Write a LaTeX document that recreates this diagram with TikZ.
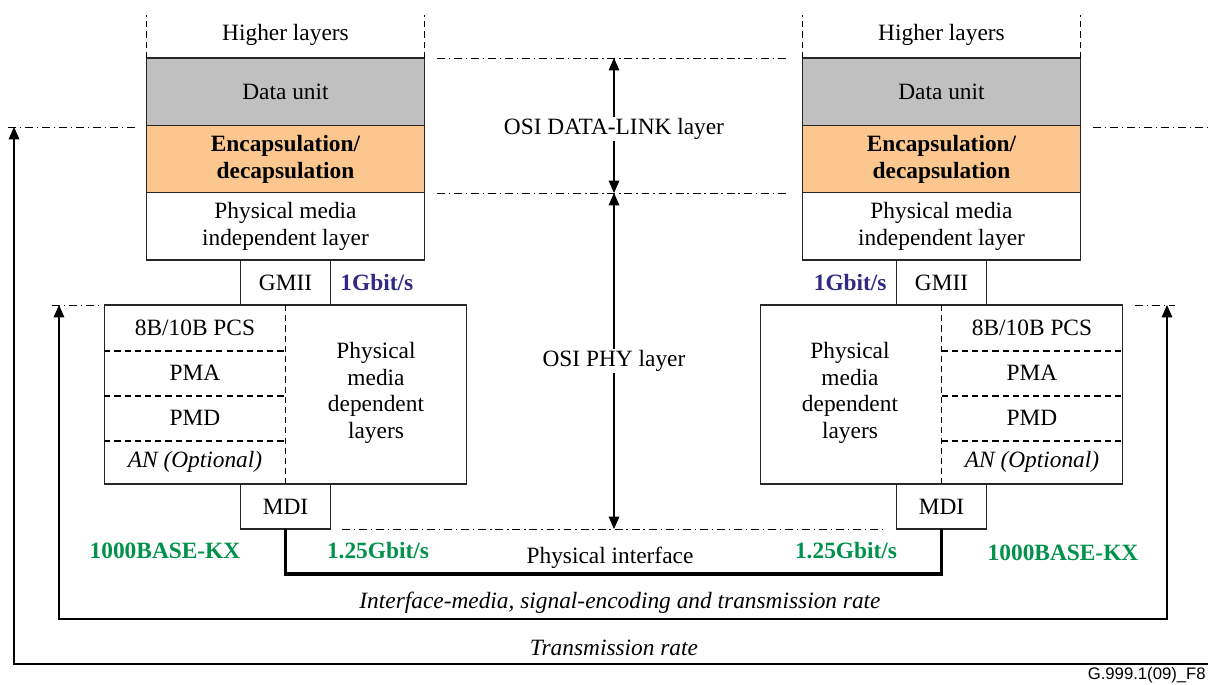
\documentclass[tikz,border=0pt]{standalone}
\usepackage{fontspec}
\setmainfont{Liberation Serif}
\setsansfont{Liberation Sans}
\usetikzlibrary{
    arrows.meta,
    positioning
}

\definecolor{dugray}{HTML}{C0C0C0}
\definecolor{encorange}{HTML}{FBC78E}
\definecolor{rateblue}{HTML}{2E2A86}
\definecolor{kxgreen}{HTML}{00924A}

\begin{document}
\begin{tikzpicture}[
    x=0.02cm, y=-0.02cm,
    every node/.style={font=\fontsize{13.3}{15.2}\selectfont, align=center},
    stack/.style={rectangle, draw=black!85, line width=0.7pt, minimum width=5.57cm,
                  minimum height=1.347cm, inner sep=0pt, outer sep=0pt},
    port/.style={rectangle, draw=black!85, line width=0.7pt, minimum width=1.81cm,
                 minimum height=0.9cm, inner sep=0pt, outer sep=0pt},
    pmdblock/.style={rectangle, draw=black!85, line width=0.7pt, minimum width=7.25cm,
                     minimum height=3.58cm, inner sep=0pt, outer sep=0pt},
    rate/.style={font=\fontsize{13.3}{15.2}\selectfont\bfseries, text=rateblue},
    kx/.style={font=\fontsize{13.3}{15.2}\selectfont\bfseries, text=kxgreen},
    sublayer/.style={dash pattern=on 3.5pt off 2.3pt, line width=0.6pt},
    guide/.style={line width=0.5pt, dash pattern=on 4.5pt off 2.2pt on 0.8pt off 2.2pt},
    arrow/.style={line width=0.7pt, >={Triangle[length=7pt,width=6pt]}},
    wire/.style={line width=1.8pt}
]
    \useasboundingbox (0,0) rectangle (1208,685);

    % left station
    \node (hlL) at (285.5,35) {Higher layers};
    \node (duL) [stack, fill=dugray] at (285.5,91.7) {Data unit};
    \node (encL) [stack, fill=encorange, below=0pt of duL,
                  font=\fontsize{13.3}{15.2}\selectfont\bfseries] {Encapsulation/\\decapsulation};
    \node (pmiL) [stack, below=0pt of encL] {Physical media\\independent layer};
    \node (gmiiL) [port, below=0pt of pmiL] {GMII};
    \node (pmdL) [pmdblock, below=0pt of gmiiL] {};
    \node (mdiL) [port, below=0pt of pmdL] {MDI};
    \draw [sublayer] (duL.north west) -- ++(0,-43);
    \draw [sublayer] (duL.north east) -- ++(0,-43);
    \draw [sublayer] (pmdL.north) -- (pmdL.south);
    \foreach \ry in {351,396,441}
        \draw [sublayer] (104.25,\ry) -- (285.5,\ry);
    \node (pcsL) at (195,328) {8B/10B PCS};
    \node (pmaL) at (195,373) {PMA};
    \node (pmdsL) at (195,418) {PMD};
    \node (anL) at (195,462) {\itshape AN (Optional)};
    \node (pmddL) at (376,393) {Physical\\media\\dependent\\layers};
    \node (gbL) [rate, right=2pt of gmiiL] {1Gbit/s};
    \node (kxL) [kx] at (165,551) {1000BASE-KX};
    \node (rateL) [kx] at (378,551) {1.25Gbit/s};

    % right station
    \node (hlR) at (941.5,35) {Higher layers};
    \node (duR) [stack, fill=dugray] at (941.5,91.7) {Data unit};
    \node (encR) [stack, fill=encorange, below=0pt of duR,
                  font=\fontsize{13.3}{15.2}\selectfont\bfseries] {Encapsulation/\\decapsulation};
    \node (pmiR) [stack, below=0pt of encR] {Physical media\\independent layer};
    \node (gmiiR) [port, below=0pt of pmiR] {GMII};
    \node (pmdR) [pmdblock, below=0pt of gmiiR] {};
    \node (mdiR) [port, below=0pt of pmdR] {MDI};
    \draw [sublayer] (duR.north west) -- ++(0,-43);
    \draw [sublayer] (duR.north east) -- ++(0,-43);
    \draw [sublayer] (pmdR.north) -- (pmdR.south);
    \foreach \ry in {351,396,441}
        \draw [sublayer] (941.5,\ry) -- (1122.75,\ry);
    \node (pcsR) at (1032,328) {8B/10B PCS};
    \node (pmaR) at (1032,373) {PMA};
    \node (pmdsR) at (1032,418) {PMD};
    \node (anR) at (1032,462) {\itshape AN (Optional)};
    \node (pmddR) at (850,393) {Physical\\media\\dependent\\layers};
    \node (gbR) [rate, left=2pt of gmiiR] {1Gbit/s};
    \node (kxR) [kx] at (1063,553) {1000BASE-KX};
    \node (rateR) [kx] at (846,551) {1.25Gbit/s};

    % physical interface
    \draw [wire] (mdiL.south) -- ++(0,45) -| (mdiR.south);
    \node (phif) at (610,558) {Physical interface};

    % OSI layer boundaries
    \coordinate (dlTop) at (614,58);
    \coordinate (dlBot) at (614,193);
    \coordinate (phyBot) at (614,529);
    \draw [guide] (437,58) -- (788,58);
    \draw [guide] (437,193) -- (788,193);
    \draw [guide] (342,529) -- (883,529);
    \draw [arrow, <->] (dlTop) -- node[fill=white, inner sep=1pt, yshift=-2] (dll) {OSI DATA-LINK layer} (dlBot);
    \draw [arrow, <->] (dlBot) -- node[fill=white, inner sep=1pt] (phy) {OSI PHY layer} (phyBot);

    % rate loops
    \coordinate (imL) at (59,305);
    \coordinate (imR) at (1167,305);
    \coordinate (trL) at (14,127);
    \draw [guide] (52,305) -- (100,305);
    \draw [guide] (1135,305) -- (1175,305);
    \draw [guide] (8,127) -- (136,127);
    \draw [guide] (1093,127) -- (1210,127);
    \draw [arrow, <->] (imL) |- (1167,619) -- (imR);
    \node (imlabel) at (620,603) {\itshape Interface-media, signal-encoding and transmission rate};
    \draw [arrow, <-] (trL) |- (1212,664);
    \node (trlabel) at (614,648) {\itshape Transmission rate};

    \node (figid) [font=\sffamily\fontsize{9.5}{11}\selectfont, anchor=base east, inner sep=0pt]
        at (1206,680) {G.999.1(09)\_F8};
\end{tikzpicture}
\end{document}
